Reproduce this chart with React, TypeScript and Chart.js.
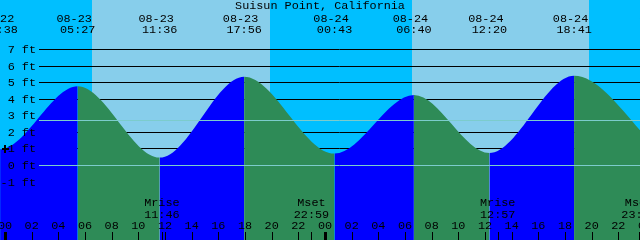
import React, { useEffect, useRef } from "react";
import { Chart, registerables } from "chart.js";

Chart.register(...registerables);

// ---- data ----
const TITLE = "Suisun Point, California";
const BASE_DAY = 23; // 08-23 00:00 is hour 0

const tideDates = ["08-22", "08-22", "08-23", "08-23", "08-23", "08-24", "08-24", "08-24", "08-24", "08-25"];
const tideTimes = ["17:10", "23:38", "05:27", "11:36", "17:56", "00:43", "06:40", "12:20", "18:41", "01:10"];
const tideHeights = [5.3, 0.98, 4.79, 0.48, 5.37, 0.72, 4.26, 0.75, 5.42, 0.85];

const sunDates = ["08-23", "08-23", "08-24", "08-24"];
const sunTimes = ["06:31", "19:52", "06:32", "19:48"]; // rise, set, rise, set

const moonLabels = ["Mrise", "Mset", "Mrise", "Mset"];
const moonDates = ["08-23", "08-23", "08-24", "08-24"];
const moonTimes = ["11:46", "22:59", "12:57", "23:33"];

const heightLabels = [-1, 0, 1, 2, 3, 4, 5, 6, 7];
const gridLevels = [1, 2, 4, 5, 6, 7];
const refLevels = [0, 2.72];

const hourTicks = [0, 2, 4, 6, 8, 10, 12, 14, 16, 18, 20, 22, 24, 26, 28, 30, 32, 34, 36, 38, 40, 42, 44, 46, 48];
const hourLabels = ["00", "02", "04", "06", "08", "10", "12", "14", "16", "18", "20", "22", "00", "02", "04", "06", "08", "10", "12", "14", "16", "18", "20", "22", "00"];
const midnightHours = [0, 24, 48];
const markerHour = 0;
const markerLevel = 1;

const X_MIN = -0.375;
const X_MAX = 47.625;
const Y_MIN = -4.5;
const Y_MAX = 10;

// ---- styles ----
const NIGHT = "#00BFFF";
const DAY = "#87CEEB";
const RISE = "#0000FF";
const FALL = "#2E8B57";
const REF = "#7CCCCC";
const FONT = "11.8px 'Liberation Mono', 'DejaVu Sans Mono', monospace";

function toH(date: string, time: string): number {
  const d = parseInt(date.slice(3), 10);
  const [h, m] = time.split(":").map(Number);
  return (d - BASE_DAY) * 24 + h + m / 60;
}

const tidePlugin = {
  id: "tideDecor",
  beforeDatasetsDraw(chart: any) {
    const { ctx, scales, width, height } = chart;
    const x = scales.x;
    const y = scales.y;
    ctx.save();
    ctx.fillStyle = NIGHT;
    ctx.fillRect(0, 0, width, height);
    ctx.fillStyle = DAY;
    for (let i = 0; i + 1 < sunTimes.length; i += 2) {
      const a = Math.round(x.getPixelForValue(toH(sunDates[i], sunTimes[i])));
      const b = Math.round(x.getPixelForValue(toH(sunDates[i + 1], sunTimes[i + 1])));
      ctx.fillRect(a, 0, b - a, height);
    }
    ctx.strokeStyle = "#000";
    ctx.lineWidth = 1;
    for (const lv of gridLevels) {
      const py = Math.floor(y.getPixelForValue(lv)) + 0.5;
      ctx.beginPath();
      ctx.moveTo(39, py);
      ctx.lineTo(width, py);
      ctx.stroke();
    }
    ctx.restore();
  },
  afterDatasetsDraw(chart: any) {
    const { ctx, scales, width } = chart;
    const x = scales.x;
    const y = scales.y;
    ctx.save();
    ctx.strokeStyle = REF;
    ctx.lineWidth = 1;
    for (const lv of refLevels) {
      const py = Math.floor(y.getPixelForValue(lv)) + 0.5;
      ctx.beginPath();
      ctx.moveTo(39, py);
      ctx.lineTo(width, py);
      ctx.stroke();
    }

    ctx.fillStyle = "#000";
    ctx.font = FONT;
    ctx.textBaseline = "alphabetic";

    // height labels
    ctx.textAlign = "right";
    for (const lv of heightLabels) {
      ctx.fillText(`${lv} ft`, 36, Math.floor(y.getPixelForValue(lv)) + 4);
    }

    // title
    ctx.textAlign = "center";
    ctx.fillText(TITLE, width / 2, 9);

    // tide extreme labels
    for (let i = 0; i < tideTimes.length; i++) {
      const px = x.getPixelForValue(toH(tideDates[i], tideTimes[i]));
      ctx.fillText(`${tideDates[i]} `, px, 22);
      ctx.fillText(tideTimes[i], px, 33);
    }

    // moon labels
    for (let i = 0; i < moonTimes.length; i++) {
      const px = x.getPixelForValue(toH(moonDates[i], moonTimes[i]));
      ctx.fillText(moonLabels[i], px, 206);
      ctx.fillText(moonTimes[i], px, 218);
      ctx.fillRect(Math.round(px), 232, 1, 8);
    }

    // hour labels & ticks
    for (let i = 0; i < hourTicks.length; i++) {
      const px = x.getPixelForValue(hourTicks[i]);
      ctx.fillText(hourLabels[i], px, 229);
      ctx.fillRect(Math.round(px), 232, 1, 8);
    }
    for (const h of midnightHours) {
      const px = Math.round(x.getPixelForValue(h));
      ctx.fillRect(px - 1, 232, 3, 8);
    }

    // marker
    const cx = Math.round(x.getPixelForValue(markerHour));
    const cy = Math.round(y.getPixelForValue(markerLevel));
    ctx.fillRect(cx - 3, cy - 1, 7, 2);
    ctx.fillRect(cx - 1, cy - 4, 2, 8);

    ctx.restore();
  },
};

export default function App() {
  const ref = useRef<HTMLCanvasElement>(null);
  useEffect(() => {
    document.body.style.margin = "0";
    const canvas = ref.current;
    if (!canvas) return;
    const points = tideTimes.map((t, i) => ({ x: toH(tideDates[i], t), y: tideHeights[i] }));
    const chart = new Chart(canvas, {
      type: "line",
      data: {
        datasets: [
          {
            data: points,
            fill: "start",
            borderWidth: 0,
            borderColor: "rgba(0,0,0,0)",
            backgroundColor: RISE,
            pointRadius: 0,
            cubicInterpolationMode: "monotone",
            segment: {
              backgroundColor: (c: any) => (c.p1.parsed.y > c.p0.parsed.y ? RISE : FALL),
            },
          } as any,
        ],
      },
      options: {
        animation: false,
        responsive: false,
        events: [],
        layout: { padding: 0 },
        plugins: { legend: { display: false }, tooltip: { enabled: false } },
        scales: {
          x: { type: "linear", min: X_MIN, max: X_MAX, display: false },
          y: { type: "linear", min: Y_MIN, max: Y_MAX, display: false },
        },
      },
      plugins: [tidePlugin],
    });
    return () => chart.destroy();
  }, []);
  return (
    <div style={{ width: 640, height: 240, position: "relative" }}>
      <canvas ref={ref} width={640} height={240} style={{ display: "block", width: 640, height: 240 }} />
    </div>
  );
}
